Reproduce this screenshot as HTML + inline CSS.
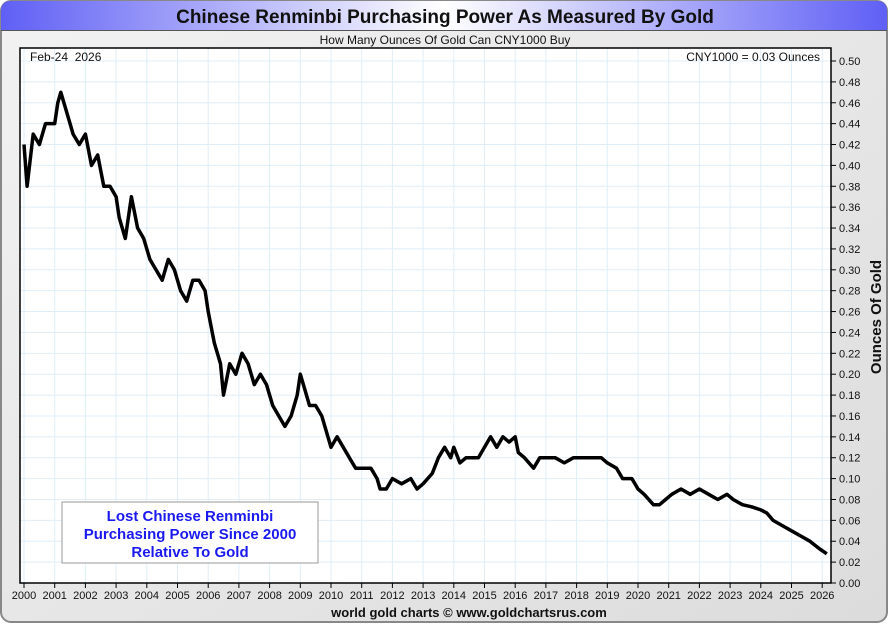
<!DOCTYPE html>
<html><head><meta charset="utf-8"><style>
html,body{margin:0;padding:0;background:#fff}
body{width:890px;height:625px;overflow:hidden;font-family:"Liberation Sans",sans-serif}
</style></head><body>
<svg id="chart" width="890" height="625" xmlns="http://www.w3.org/2000/svg">
<defs>
<linearGradient id="tg" x1="0" x2="1" y1="0" y2="0">
<stop offset="0" stop-color="#5f5ff5"/><stop offset="0.5" stop-color="#ffffff"/><stop offset="1" stop-color="#5f5ff5"/>
</linearGradient>
<linearGradient id="bg" x1="0" x2="1" y1="0" y2="1">
<stop offset="0" stop-color="#f2f2f2"/><stop offset="1" stop-color="#dcdcdc"/>
</linearGradient>
</defs>
<rect x="1" y="1" width="886" height="621" rx="10" fill="url(#bg)" stroke="#888" stroke-width="2"/>
<path d="M1,30 L1,11 Q1,1 11,1 L877,1 Q887,1 887,11 L887,30 Z" fill="url(#tg)"/>
<line x1="1" y1="30.5" x2="887" y2="30.5" stroke="#555" stroke-width="1"/>
<text x="445" y="23" text-anchor="middle" font-size="19" font-weight="bold" fill="#111">Chinese Renminbi Purchasing Power As Measured By Gold</text>
<text x="445" y="44" text-anchor="middle" font-size="12" fill="#111">How Many Ounces Of Gold Can CNY1000 Buy</text>
<rect x="20" y="48" width="811" height="535" fill="#fff"/>
<g id="grid"></g>
<g id="series"></g>
<rect x="20" y="48" width="811" height="535" fill="none" stroke="#000" stroke-width="1.5"/>
<g id="axes"></g>
<text x="30" y="61" font-size="12" fill="#111">Feb-24&#160;&#160;2026</text>
<text x="820" y="61" text-anchor="end" font-size="12" fill="#111">CNY1000 = 0.03 Ounces</text>
<g>
<rect x="62" y="502" width="256" height="61" fill="#fff" stroke="#999"/>
<text x="190" y="521" text-anchor="middle" font-size="15" font-weight="bold" fill="#1a1aee">Lost Chinese Renminbi</text>
<text x="190" y="539" text-anchor="middle" font-size="15" font-weight="bold" fill="#1a1aee">Purchasing Power Since 2000</text>
<text x="190" y="557" text-anchor="middle" font-size="15" font-weight="bold" fill="#1a1aee">Relative To Gold</text>
</g>
<text transform="translate(881,317) rotate(-90)" text-anchor="middle" font-size="15" font-weight="bold" fill="#111">Ounces Of Gold</text>
<text x="469" y="617" text-anchor="middle" font-size="13" font-weight="bold" fill="#111">world gold charts © www.goldchartsrus.com</text>
</svg>
<script>
const years=[2000,2000.1,2000.3,2000.5,2000.7,2001.0,2001.1,2001.2,2001.4,2001.6,2001.8,2002.0,2002.2,2002.4,2002.6,2002.8,2003.0,2003.1,2003.3,2003.5,2003.7,2003.9,2004.1,2004.3,2004.5,2004.7,2004.9,2005.1,2005.3,2005.5,2005.7,2005.9,2006.0,2006.2,2006.4,2006.5,2006.7,2006.9,2007.1,2007.3,2007.5,2007.7,2007.9,2008.1,2008.3,2008.5,2008.7,2008.9,2009.0,2009.1,2009.3,2009.5,2009.7,2009.9,2010.0,2010.2,2010.4,2010.6,2010.8,2011.0,2011.3,2011.5,2011.6,2011.8,2012.0,2012.3,2012.6,2012.8,2013.0,2013.3,2013.5,2013.7,2013.9,2014.0,2014.2,2014.4,2014.6,2014.8,2015.0,2015.2,2015.4,2015.6,2015.8,2016.0,2016.1,2016.3,2016.6,2016.8,2017.0,2017.3,2017.6,2017.9,2018.2,2018.5,2018.8,2019.0,2019.3,2019.5,2019.8,2020.0,2020.2,2020.5,2020.7,2020.9,2021.1,2021.4,2021.7,2022.0,2022.3,2022.6,2022.9,2023.1,2023.4,2023.7,2024.0,2024.2,2024.4,2024.7,2025.0,2025.3,2025.6,2025.9,2026.15];
const values=[0.42,0.38,0.43,0.42,0.44,0.44,0.46,0.47,0.45,0.43,0.42,0.43,0.40,0.41,0.38,0.38,0.37,0.35,0.33,0.37,0.34,0.33,0.31,0.30,0.29,0.31,0.30,0.28,0.27,0.29,0.29,0.28,0.26,0.23,0.21,0.18,0.21,0.20,0.22,0.21,0.19,0.20,0.19,0.17,0.16,0.15,0.16,0.18,0.20,0.19,0.17,0.17,0.16,0.14,0.13,0.14,0.13,0.12,0.11,0.11,0.11,0.10,0.09,0.09,0.10,0.095,0.10,0.09,0.095,0.105,0.12,0.13,0.12,0.13,0.115,0.12,0.12,0.12,0.13,0.14,0.13,0.14,0.135,0.14,0.125,0.12,0.11,0.12,0.12,0.12,0.115,0.12,0.12,0.12,0.12,0.115,0.11,0.10,0.10,0.09,0.085,0.075,0.075,0.08,0.085,0.09,0.085,0.09,0.085,0.08,0.085,0.08,0.075,0.073,0.07,0.067,0.06,0.055,0.05,0.045,0.04,0.033,0.028];
const yTicks=[0,0.02,0.04,0.06,0.08,0.10,0.12,0.14,0.16,0.18,0.20,0.22,0.24,0.26,0.28,0.30,0.32,0.34,0.36,0.38,0.40,0.42,0.44,0.46,0.48,0.50];
const xTicks=[2000,2001,2002,2003,2004,2005,2006,2007,2008,2009,2010,2011,2012,2013,2014,2015,2016,2017,2018,2019,2020,2021,2022,2023,2024,2025,2026];
const NS="http://www.w3.org/2000/svg";
function xs(t){return 24+(t-2000)*30.7;}
function ys(v){return 583-v*1044;}
const grid=document.getElementById('grid'),axes=document.getElementById('axes'),ser=document.getElementById('series');
function mk(tag,attrs,parent){const e=document.createElementNS(NS,tag);for(const k in attrs)e.setAttribute(k,attrs[k]);parent.appendChild(e);return e;}
yTicks.forEach(v=>{
  const y=ys(v);
  const g=mk('line',{x1:20,x2:831,y1:y,y2:y,stroke:'#dfeef8','stroke-width':1},grid);
  
  
  mk('line',{x1:831,x2:836,y1:y,y2:y,stroke:'#000'},axes);
  const t=mk('text',{x:839,y:y+4,'font-size':11,fill:'#111'},axes);
  t.textContent=v.toFixed(2);
  
  
});
xTicks.forEach(yr=>{
  const x=xs(yr);
  const g=mk('line',{x1:x,x2:x,y1:48,y2:583,stroke:'#dfeef8','stroke-width':1},grid);
  
  
  mk('line',{x1:x,x2:x,y1:583,y2:588,stroke:'#000'},axes);
  const t=mk('text',{x:x,y:599,'font-size':11,fill:'#111','text-anchor':'middle'},axes);
  t.textContent=String(yr);
  
  
});
let d='';
years.forEach((t,i)=>{d+=(i?'L':'M')+xs(t).toFixed(1)+','+ys(values[i]).toFixed(1);});
const p=mk('path',{d:d,fill:'none',stroke:'#000','stroke-width':3.5,'stroke-linejoin':'round'},ser);


</script>
</body></html>
